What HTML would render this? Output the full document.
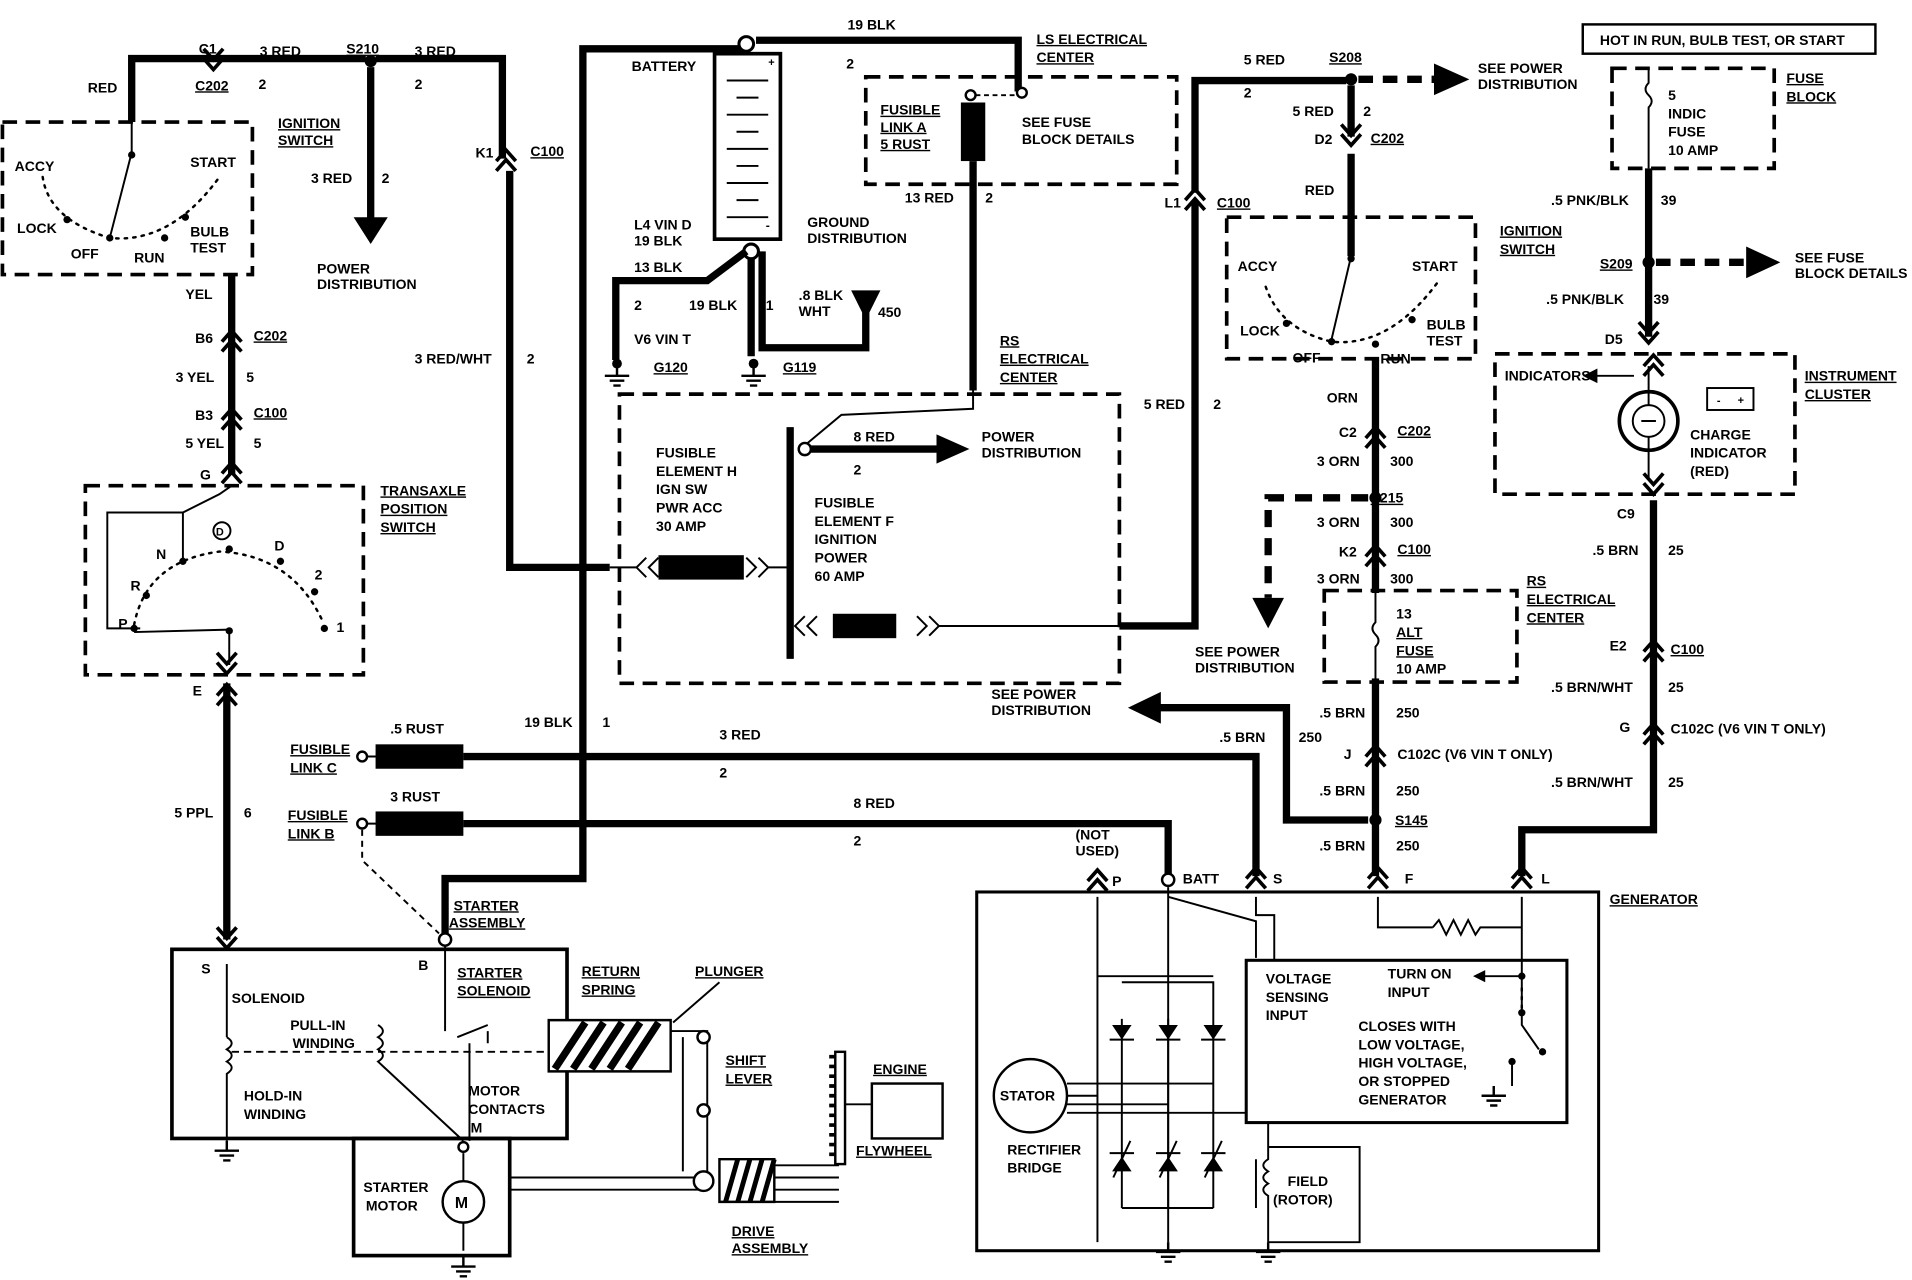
<!DOCTYPE html>
<html><head><meta charset="utf-8"><style>
html,body{margin:0;padding:0;background:#fff;}
svg{display:block;}
text{font-family:"Liberation Sans",sans-serif;font-weight:bold;font-size:11.5px;fill:#000;}
.t{fill:none;stroke:#000;stroke-width:6;}
.n{fill:none;stroke:#000;stroke-width:1.6;}
.d{fill:none;stroke:#000;stroke-width:3;stroke-dasharray:12 7;}
.dt{fill:none;stroke:#000;stroke-width:2;stroke-dasharray:2 5;stroke-linecap:round;}
.u{text-decoration:underline;}
</style></head><body>
<svg width="1912" height="1280" viewBox="0 0 1568 1049" preserveAspectRatio="none" xmlns="http://www.w3.org/2000/svg">
<defs>
<g id="cu"><path d="M-8 4 L0 -5 L8 4 M-8 12 L0 3 L8 12" fill="none" stroke="#000" stroke-width="3"/></g>
<g id="cd"><path d="M-8 -4 L0 5 L8 -4 M-8 -12 L0 -3 L8 -12" fill="none" stroke="#000" stroke-width="3"/></g>
<g id="gnd"><path d="M0 0 V8 M-10 8 H10 M-6 12 H6 M-3 16 H3" fill="none" stroke="#000" stroke-width="2"/></g>
</defs>
<rect width="1568" height="1049" fill="#fff"/>

<!-- left top red circuit -->
<path class="t" d="M108 100 V48 H300 M308 48 H412 V130 M418 140 V465 H500"/>
<use href="#cd" x="175" y="52"/><use href="#cu" x="415" y="128"/>
<circle cx="304" cy="50" r="5"/>
<path class="t" d="M304 55 V180"/><path d="M290 178 L318 178 L304 200 Z"/>
<text x="163" y="44">C1</text><text x="213" y="46">3 RED</text><text x="284" y="44" class="u">S210</text><text x="340" y="46">3 RED</text>
<text x="72" y="76">RED</text><text x="160" y="74" class="u">C202</text><text x="212" y="73">2</text><text x="340" y="73">2</text>
<text x="390" y="129">K1</text><text x="435" y="128" class="u">C100</text>
<text x="255" y="150">3 RED</text><text x="313" y="150">2</text>
<text x="260" y="224">POWER</text><text x="260" y="237">DISTRIBUTION</text>
<text x="340" y="298">3 RED/WHT</text><text x="432" y="298">2</text>
<text x="228" y="105" class="u">IGNITION</text><text x="228" y="119" class="u">SWITCH</text>

<!-- left ignition switch -->
<rect class="d" x="2" y="100" width="205" height="125"/>
<path class="n" d="M108 100 V125 L90 195"/><circle cx="108" cy="127" r="3"/>
<path class="dt" d="M35 145 Q40 180 90 195 Q140 200 180 145"/>
<circle cx="55" cy="180" r="3"/><circle cx="90" cy="195" r="3"/><circle cx="135" cy="195" r="3"/><circle cx="152" cy="178" r="3"/>
<text x="12" y="140">ACCY</text><text x="156" y="137">START</text><text x="14" y="191">LOCK</text><text x="58" y="212">OFF</text><text x="110" y="215">RUN</text><text x="156" y="194">BULB</text><text x="156" y="207">TEST</text>
<path class="t" d="M190 225 V388"/>
<text x="152" y="245">YEL</text>
<use href="#cu" x="190" y="276"/><text x="160" y="281">B6</text><text x="208" y="279" class="u">C202</text>
<text x="144" y="313">3 YEL</text><text x="202" y="313">5</text>
<use href="#cu" x="190" y="340"/><text x="160" y="344">B3</text><text x="208" y="342" class="u">C100</text>
<text x="152" y="367">5 YEL</text><text x="208" y="367">5</text>
<use href="#cu" x="190" y="384"/><text x="164" y="393">G</text>

<!-- transaxle -->
<rect class="d" x="70" y="398" width="228" height="155"/>
<text x="312" y="406" class="u">TRANSAXLE</text><text x="312" y="421" class="u">POSITION</text><text x="312" y="436" class="u">SWITCH</text>
<path class="n" d="M190 398 L180 405 L150 420 H88 V515 H115 M150 420 V458 M188 518 V545 M110 518 L188 516"/>
<path class="dt" d="M110 512 Q120 460 180 452 Q240 455 265 510"/>
<circle cx="150" cy="460" r="3"/><circle cx="120" cy="488" r="3"/><circle cx="110" cy="515" r="3"/><circle cx="188" cy="450" r="3"/><circle cx="230" cy="460" r="3"/><circle cx="258" cy="485" r="3"/><circle cx="266" cy="515" r="3"/><circle cx="188" cy="517" r="3"/>
<circle cx="182" cy="435" r="7" class="n"/><text x="177" y="439" style="font-size:9px">D</text>
<text x="128" y="458">N</text><text x="107" y="484">R</text><text x="97" y="515">P</text><text x="225" y="451">D</text><text x="258" y="475">2</text><text x="276" y="518">1</text>
<use href="#cd" x="186" y="547"/><text x="158" y="570">E</text>
<path class="t" d="M186 560 V770"/><use href="#cu" x="186" y="566"/>
<text x="143" y="670">5 PPL</text><text x="200" y="670">6</text>

<!-- starter -->
<rect x="141" y="778" width="324" height="155" fill="none" stroke="#000" stroke-width="3"/>
<rect x="290" y="933" width="128" height="96" fill="none" stroke="#000" stroke-width="3"/>
<use href="#cd" x="186" y="772"/><text x="165" y="798">S</text><text x="343" y="795">B</text>
<circle cx="365" cy="770" r="5" fill="#fff" stroke="#000" stroke-width="2"/>
<path class="t" d="M365 765 V720 H478 V40 H612 M620 33 H835 V75"/>
<text x="372" y="746" class="u">STARTER</text><text x="368" y="760" class="u">ASSEMBLY</text>
<text x="375" y="801" class="u">STARTER</text><text x="375" y="816" class="u">SOLENOID</text>
<text x="190" y="822">SOLENOID</text><text x="238" y="844">PULL-IN</text><text x="240" y="859">WINDING</text><text x="200" y="902">HOLD-IN</text><text x="200" y="917">WINDING</text>
<text x="384" y="898">MOTOR</text><text x="384" y="913">CONTACTS</text><text x="386" y="928">M</text>
<path class="n" d="M186 790 V850 M186 850 q8 5 0 10 q8 5 0 10 q8 5 0 10 V935 M310 840 q8 5 0 10 q8 5 0 10 q8 5 0 10 L380 935 M365 775 V845"/>
<use href="#gnd" x="186" y="935"/>
<path d="M190 862 H450" fill="none" stroke="#000" stroke-width="1.6" stroke-dasharray="6 4"/>
<path class="n" d="M375 850 L400 840 M385 855 V935 M400 845 V855"/>
<circle cx="380" cy="940" r="4" fill="#fff" stroke="#000" stroke-width="2"/>
<circle cx="380" cy="985" r="17" fill="#fff" stroke="#000" stroke-width="2"/><text x="373" y="990" style="font-size:13px">M</text>
<path class="n" d="M380 945 V968 M380 1002 V1025"/><use href="#gnd" x="380" y="1030"/>
<text x="298" y="977">STARTER</text><text x="300" y="992">MOTOR</text>
<path class="n" d="M418 965 H580 M418 975 H580"/>
<path d="M450 836 H550 V878 H450 Z" fill="#fff" stroke="#000" stroke-width="2"/>
<path d="M455 876 L480 838 M470 876 L495 838 M485 876 L510 838 M500 876 L525 838 M515 876 L540 838" stroke="#000" stroke-width="6"/>
<text x="477" y="800" class="u">RETURN</text><text x="477" y="815" class="u">SPRING</text>
<text x="570" y="800" class="u">PLUNGER</text><path class="n" d="M590 805 L552 838"/>
<path class="n" d="M550 845 H580 V965 M560 850 V960"/><circle cx="577" cy="850" r="5" fill="#fff" stroke="#000" stroke-width="2"/><circle cx="577" cy="910" r="5" fill="#fff" stroke="#000" stroke-width="2"/><circle cx="577" cy="968" r="8" fill="#fff" stroke="#000" stroke-width="2"/>
<text x="595" y="873" class="u">SHIFT</text><text x="595" y="888" class="u">LEVER</text>
<path d="M590 950 H635 V985 H590 Z" fill="#fff" stroke="#000" stroke-width="2"/>
<path d="M595 985 L605 950 M605 985 L615 950 M615 985 L625 950 M625 985 L635 950" stroke="#000" stroke-width="4"/>
<path class="n" d="M635 955 H688 M635 965 H688 M635 975 H688 M635 985 H688"/>
<rect x="685" y="862" width="8" height="92" fill="#fff" stroke="#000" stroke-width="2"/>
<path d="M685 866 h-5 M685 874 h-5 M685 882 h-5 M685 890 h-5 M685 898 h-5 M685 906 h-5 M685 914 h-5 M685 922 h-5 M685 930 h-5 M685 938 h-5 M685 946 h-5" stroke="#000" stroke-width="3"/>
<path class="n" d="M693 905 H715"/><rect x="715" y="888" width="58" height="45" fill="none" stroke="#000" stroke-width="2"/>
<text x="716" y="880" class="u">ENGINE</text><text x="702" y="947" class="u">FLYWHEEL</text>
<text x="600" y="1013" class="u">DRIVE</text><text x="600" y="1027" class="u">ASSEMBLY</text>

<!-- fusible links C/B -->
<text x="238" y="618" class="u">FUSIBLE</text><text x="238" y="633" class="u">LINK C</text>
<text x="236" y="672" class="u">FUSIBLE</text><text x="236" y="687" class="u">LINK B</text>
<text x="320" y="601">.5 RUST</text><text x="320" y="657">3 RUST</text>
<text x="430" y="596">19 BLK</text><text x="494" y="596">1</text>
<circle cx="297" cy="620" r="4" fill="#fff" stroke="#000" stroke-width="2"/><circle cx="297" cy="675" r="4" fill="#fff" stroke="#000" stroke-width="2"/>
<path class="n" d="M301 620 H310 M301 675 H310"/>
<rect x="308" y="610" width="72" height="20" fill="#000"/><rect x="308" y="665" width="72" height="20" fill="#000"/>
<path class="t" d="M380 620 H1030 V718 M380 675 H958 V718"/>
<path d="M297 680 V705 L360 765" fill="none" stroke="#000" stroke-width="1.6" stroke-dasharray="5 4"/>
<text x="590" y="606">3 RED</text><text x="590" y="637">2</text><text x="700" y="662">8 RED</text><text x="700" y="693">2</text>

<!-- battery -->
<rect x="586" y="44" width="54" height="152" fill="#fff" stroke="#000" stroke-width="3"/>
<path class="n" d="M596 66 H630 M604 80 H622 M596 94 H630 M604 108 H622 M596 122 H630 M604 136 H622 M596 150 H630 M604 164 H622 M596 178 H630"/>
<circle cx="612" cy="36" r="6" fill="#fff" stroke="#000" stroke-width="2.5"/>
<circle cx="616" cy="206" r="6" fill="#fff" stroke="#000" stroke-width="2.5"/>
<text x="630" y="54" style="font-size:9px">+</text><text x="628" y="188" style="font-size:10px">-</text>
<text x="518" y="58">BATTERY</text><text x="695" y="24">19 BLK</text><text x="694" y="56">2</text>
<path class="t" d="M612 206 L580 230 H505 V295 M616 212 V250 M616 250 V292 M625 206 V285 H710 V240"/>
<path d="M698 238 L722 238 L710 262 Z"/>
<text x="520" y="188">L4 VIN D</text><text x="520" y="201">19 BLK</text><text x="520" y="223">13 BLK</text>
<text x="662" y="186">GROUND</text><text x="662" y="199">DISTRIBUTION</text>
<text x="520" y="254">2</text><text x="565" y="254">19 BLK</text><text x="628" y="254">1</text>
<text x="655" y="246">.8 BLK</text><text x="655" y="259">WHT</text><text x="720" y="260">450</text>
<text x="520" y="282">V6 VIN T</text>
<circle cx="506" cy="298" r="4"/><use href="#gnd" x="506" y="300"/><circle cx="618" cy="298" r="4"/><use href="#gnd" x="618" y="300"/>
<text x="536" y="305" class="u">G120</text><text x="642" y="305" class="u">G119</text>

<!-- LS electrical center -->
<rect class="d" x="710" y="63" width="255" height="88"/>
<text x="850" y="36" class="u">LS ELECTRICAL</text><text x="850" y="51" class="u">CENTER</text>
<circle cx="838" cy="76" r="4" fill="#fff" stroke="#000" stroke-width="2"/><circle cx="796" cy="78" r="4" fill="#fff" stroke="#000" stroke-width="2"/>
<path d="M800 78 H835" fill="none" stroke="#000" stroke-width="1.6" stroke-dasharray="4 3"/>
<rect x="788" y="84" width="20" height="48" fill="#000"/>
<text x="722" y="94" class="u">FUSIBLE</text><text x="722" y="108" class="u">LINK A</text><text x="722" y="122" class="u">5 RUST</text>
<text x="838" y="104">SEE FUSE</text><text x="838" y="118">BLOCK DETAILS</text>
<path class="t" d="M798 132 V320"/><path class="n" d="M798 320 V335 L690 340 L660 365"/>
<text x="742" y="166">13 RED</text><text x="808" y="166">2</text>

<!-- RS electrical center -->
<rect class="d" x="508" y="323" width="410" height="237"/>
<text x="820" y="283" class="u">RS</text><text x="820" y="298" class="u">ELECTRICAL</text><text x="820" y="313" class="u">CENTER</text>
<path class="t" d="M648 350 V540"/>
<circle cx="660" cy="368" r="5" fill="#fff" stroke="#000" stroke-width="2"/>
<path class="t" d="M665 368 H770"/><path d="M768 356 L795 368 L768 380 Z"/>
<text x="700" y="362">8 RED</text><text x="700" y="389">2</text><text x="805" y="362">POWER</text><text x="805" y="375">DISTRIBUTION</text>
<text x="538" y="375">FUSIBLE</text><text x="538" y="390">ELEMENT H</text><text x="538" y="405">IGN SW</text><text x="538" y="420">PWR ACC</text><text x="538" y="435">30 AMP</text>
<text x="668" y="416">FUSIBLE</text><text x="668" y="431">ELEMENT F</text><text x="668" y="446">IGNITION</text><text x="668" y="461">POWER</text><text x="668" y="476">60 AMP</text>
<path class="n" d="M500 465 H522 M530 457 L522 465 L530 473 M540 457 L532 465 L540 473 M612 457 L620 465 L612 473 M622 457 L630 465 L622 473 M630 465 H645"/>
<rect x="540" y="455" width="70" height="20" fill="#000"/>
<path class="n" d="M660 505 L652 513 L660 521 M670 505 L662 513 L670 521 M752 505 L760 513 L752 521 M762 505 L770 513 L762 521 M770 513 H918"/>
<rect x="683" y="503" width="52" height="20" fill="#000"/>
<path class="t" d="M918 513 H980 V165 M980 158 V66 H1104"/>
<use href="#cu" x="980" y="160"/><text x="955" y="170">L1</text><text x="998" y="170" class="u">C100</text>
<text x="938" y="335">5 RED</text><text x="995" y="335">2</text>
<text x="813" y="573">SEE POWER</text><text x="813" y="586">DISTRIBUTION</text>

<!-- S208 -->
<circle cx="1108" cy="65" r="5"/>
<path d="M1114 65 H1178" fill="none" stroke="#000" stroke-width="6" stroke-dasharray="12 8"/><path d="M1176 52 L1205 65 L1176 78 Z"/>
<text x="1020" y="53">5 RED</text><text x="1090" y="51" class="u">S208</text><text x="1020" y="80">2</text>
<text x="1212" y="60">SEE POWER</text><text x="1212" y="73">DISTRIBUTION</text>
<path class="t" d="M1108 70 V112"/><use href="#cd" x="1108" y="114"/>
<text x="1060" y="95">5 RED</text><text x="1118" y="95">2</text><text x="1078" y="118">D2</text><text x="1124" y="117" class="u">C202</text>
<path class="t" d="M1108 126 V210"/><text x="1070" y="160">RED</text>

<!-- middle ignition switch -->
<rect class="d" x="1006" y="178" width="204" height="116"/>
<text x="1230" y="193" class="u">IGNITION</text><text x="1230" y="208" class="u">SWITCH</text>
<path class="n" d="M1108 210 L1092 278"/><circle cx="1108" cy="212" r="3"/>
<path class="dt" d="M1038 235 Q1050 270 1092 280 Q1140 285 1180 230"/>
<circle cx="1055" cy="265" r="3"/><circle cx="1092" cy="280" r="3"/><circle cx="1128" cy="282" r="3"/><circle cx="1158" cy="262" r="3"/>
<text x="1015" y="222">ACCY</text><text x="1158" y="222">START</text><text x="1017" y="275">LOCK</text><text x="1060" y="297">OFF</text><text x="1132" y="298">RUN</text><text x="1170" y="270">BULB</text><text x="1170" y="283">TEST</text>
<path class="t" d="M1128 295 V718"/>
<text x="1088" y="330">ORN</text>
<use href="#cu" x="1128" y="355"/><text x="1098" y="358">C2</text><text x="1146" y="357" class="u">C202</text>
<text x="1080" y="382">3 ORN</text><text x="1140" y="382">300</text>
<circle cx="1128" cy="408" r="5"/><text x="1124" y="412" class="u">S215</text>
<path d="M1122 408 H1040 V490" fill="none" stroke="#000" stroke-width="6" stroke-dasharray="14 9"/><path d="M1027 490 L1053 490 L1040 515 Z"/>
<text x="980" y="538">SEE POWER</text><text x="980" y="551">DISTRIBUTION</text>
<text x="1080" y="432">3 ORN</text><text x="1140" y="432">300</text>
<use href="#cu" x="1128" y="452"/><text x="1098" y="456">K2</text><text x="1146" y="454" class="u">C100</text>
<text x="1080" y="478">3 ORN</text><text x="1140" y="478">300</text>
<rect class="d" x="1086" y="484" width="158" height="75"/>
<rect x="1122" y="486" width="12" height="70" fill="#fff"/>
<path class="n" d="M1128 484 V510 q-5 5 0 10 q5 5 0 10 V560"/>
<text x="1145" y="507">13</text><text x="1145" y="522" class="u">ALT</text><text x="1145" y="537" class="u">FUSE</text><text x="1145" y="552">10 AMP</text>
<text x="1252" y="480" class="u">RS</text><text x="1252" y="495" class="u">ELECTRICAL</text><text x="1252" y="510" class="u">CENTER</text>
<text x="1082" y="588">.5 BRN</text><text x="1145" y="588">250</text>
<use href="#cu" x="1128" y="616"/><text x="1102" y="622">J</text><text x="1146" y="622">C102C (V6 VIN T ONLY)</text>
<text x="1082" y="652">.5 BRN</text><text x="1145" y="652">250</text>
<circle cx="1128" cy="672" r="5"/><text x="1144" y="676" class="u">S145</text>
<text x="1082" y="697">.5 BRN</text><text x="1145" y="697">250</text>
<path class="t" d="M1122 672 H1055 V580 H950"/><path d="M952 567 L925 580 L952 593 Z"/>
<text x="1000" y="608">.5 BRN</text><text x="1065" y="608">250</text>

<!-- fuse block -->
<rect x="1298" y="20" width="240" height="24" fill="none" stroke="#000" stroke-width="2"/>
<text x="1312" y="37">HOT IN RUN, BULB TEST, OR START</text>
<rect class="d" x="1322" y="56" width="133" height="82"/>
<text x="1465" y="68" class="u">FUSE</text><text x="1465" y="83" class="u">BLOCK</text>
<path class="n" d="M1352 56 V68 q-5 5 0 10 q5 5 0 10 V138"/>
<text x="1368" y="82">5</text><text x="1368" y="97">INDIC</text><text x="1368" y="112">FUSE</text><text x="1368" y="127">10 AMP</text>
<path class="t" d="M1352 138 V276"/>
<text x="1272" y="168">.5 PNK/BLK</text><text x="1362" y="168">39</text>
<circle cx="1352" cy="215" r="5"/><text x="1312" y="220" class="u">S209</text>
<path d="M1358 215 H1432" fill="none" stroke="#000" stroke-width="6" stroke-dasharray="12 8"/><path d="M1432 202 L1460 215 L1432 228 Z"/>
<text x="1472" y="215">SEE FUSE</text><text x="1472" y="228">BLOCK DETAILS</text>
<text x="1268" y="249">.5 PNK/BLK</text><text x="1356" y="249">39</text>
<use href="#cd" x="1352" y="276"/><text x="1316" y="282">D5</text>

<!-- instrument cluster -->
<rect class="d" x="1226" y="290" width="246" height="115"/>
<text x="1480" y="312" class="u">INSTRUMENT</text><text x="1480" y="327" class="u">CLUSTER</text>
<use href="#cu" x="1356" y="296"/>
<text x="1234" y="312">INDICATORS</text>
<path class="n" d="M1340 308 H1308"/><path d="M1310 302 L1298 308 L1310 314 Z"/>
<circle cx="1352" cy="345" r="24" fill="none" stroke="#000" stroke-width="3"/>
<circle cx="1352" cy="345" r="13" fill="none" stroke="#000" stroke-width="1.6"/>
<path class="n" d="M1352 300 V332 M1352 358 V392 M1346 345 H1358"/>
<rect x="1400" y="318" width="38" height="18" fill="none" stroke="#000" stroke-width="1.6"/>
<text x="1408" y="331" style="font-size:9px">-</text><text x="1425" y="331" style="font-size:9px">+</text>
<text x="1386" y="360">CHARGE</text><text x="1386" y="375">INDICATOR</text><text x="1386" y="390">(RED)</text>
<use href="#cd" x="1356" y="400"/><text x="1326" y="425">C9</text>
<path class="t" d="M1356 410 V680 H1248 V718"/>
<text x="1306" y="455">.5 BRN</text><text x="1368" y="455">25</text>
<use href="#cu" x="1356" y="530"/><text x="1320" y="533">E2</text><text x="1370" y="536" class="u">C100</text>
<text x="1272" y="567">.5 BRN/WHT</text><text x="1368" y="567">25</text>
<use href="#cu" x="1356" y="598"/><text x="1328" y="600">G</text><text x="1370" y="601">C102C (V6 VIN T ONLY)</text>
<text x="1272" y="645">.5 BRN/WHT</text><text x="1368" y="645">25</text>

<!-- generator -->
<rect x="801" y="731" width="510" height="294" fill="none" stroke="#000" stroke-width="2.5"/>
<text x="1320" y="741" class="u">GENERATOR</text>
<text x="882" y="688">(NOT</text><text x="882" y="701">USED)</text>
<use href="#cu" x="900" y="718"/><text x="912" y="726">P</text>
<circle cx="958" cy="721" r="5" fill="#fff" stroke="#000" stroke-width="2"/><text x="970" y="724">BATT</text>
<use href="#cu" x="1030" y="716"/><text x="1044" y="724">S</text>
<use href="#cu" x="1130" y="716"/><text x="1152" y="724">F</text>
<use href="#cu" x="1248" y="716"/><text x="1264" y="724">L</text>
<path class="n" d="M900 735 V1018 M958 727 V1018 M958 735 L1030 755 V785 M1030 735 V750 H1045 V787 M1130 735 V760 H1175 M1175 760 l5 -6 l6 12 l6 -12 l6 12 l6 -12 l6 12 l4 -6 H1248 V735 M1248 760 V800"/>
<use href="#gnd" x="958" y="1018"/><use href="#gnd" x="1040" y="1018"/>
<text x="1038" y="806">VOLTAGE</text><text x="1038" y="821">SENSING</text><text x="1038" y="836">INPUT</text>
<rect x="1022" y="787" width="263" height="133" fill="none" stroke="#000" stroke-width="2.5"/>
<text x="1138" y="802">TURN ON</text><text x="1138" y="817">INPUT</text>
<path class="n" d="M1248 800 H1215"/><path d="M1218 795 L1208 800 L1218 805 Z"/>
<circle cx="1248" cy="800" r="3"/><circle cx="1248" cy="830" r="3"/><circle cx="1265" cy="862" r="3"/><circle cx="1240" cy="870" r="3"/>
<path class="n" d="M1248 800 V840 L1262 860 M1240 870 V890"/>
<path class="dt" d="M1248 810 V830"/>
<use href="#gnd" x="1225" y="890"/>
<text x="1114" y="845">CLOSES WITH</text><text x="1114" y="860">LOW VOLTAGE,</text><text x="1114" y="875">HIGH VOLTAGE,</text><text x="1114" y="890">OR STOPPED</text><text x="1114" y="905">GENERATOR</text>
<circle cx="845" cy="898" r="30" fill="#fff" stroke="#000" stroke-width="2"/><text x="820" y="902">STATOR</text>
<path class="n" d="M875 888 H995 M875 898 H900 M875 905 H958 M875 912 H1022 M920 835 V990 M958 835 V990 M995 835 V990 M920 805 H995 V835 M920 990 H995 M900 800 H995 M958 805 V805"/>
<path d="M912 840 L928 840 L920 852 Z M950 840 L966 840 L958 852 Z M987 840 L1003 840 L995 852 Z M912 960 L928 960 L920 948 Z M950 960 L966 960 L958 948 Z M987 960 L1003 960 L995 948 Z" fill="#000"/>
<path class="n" d="M910 852 H930 M948 852 H968 M985 852 H1005 M910 945 H930 M948 945 H968 M985 945 H1005 M913 965 L927 935 M951 965 L965 935 M988 965 L1002 935"/>
<text x="826" y="946">RECTIFIER</text><text x="826" y="961">BRIDGE</text>
<path class="n" d="M1040 920 V950 q-8 5 0 10 q-8 5 0 10 q-8 5 0 10 V1018 M1030 950 V990 M1040 940 H1115 V1018 H1040"/>
<text x="1056" y="972">FIELD</text><text x="1044" y="987">(ROTOR)</text>
</svg>
</body></html>
